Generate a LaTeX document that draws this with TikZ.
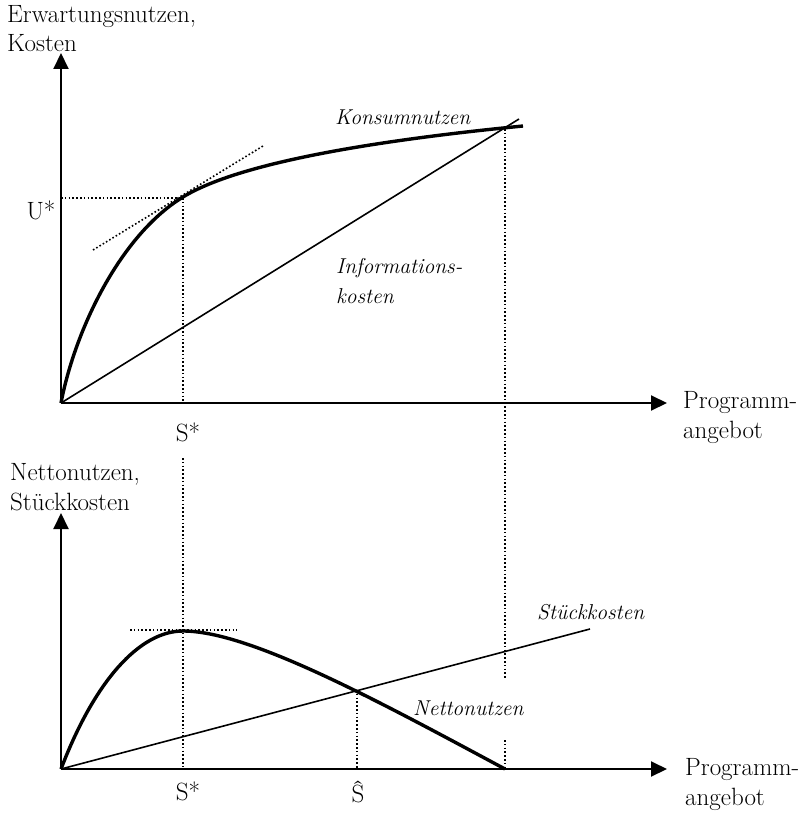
\documentclass[tikz,border=0pt]{standalone}
\usepackage{fontspec}
\usetikzlibrary{arrows.meta}
\begin{document}
\begin{tikzpicture}[x=1pt,y=-1pt,
  axis/.style={line width=2pt,-{Triangle[length=16pt,width=15pt]}},
  curve/.style={line width=3.4pt,line join=round},
  thin/.style={line width=1.6pt},
  dots/.style={line width=1.6pt,dash pattern=on 1.6pt off 2.2pt},
  lab/.style={font=\fontsize{25}{29.5}\selectfont,inner sep=0pt,anchor=base west,align=left},
  ilab/.style={font=\fontsize{21.5}{30}\selectfont\itshape,inner sep=0pt,anchor=base west,align=left},
  clab/.style={font=\fontsize{25}{29}\selectfont,inner sep=0pt,anchor=base},
]
\useasboundingbox (0,0) rectangle (804,813);
% coordinates
\coordinate (O1) at (61,403);
\coordinate (Y1) at (61,53);
\coordinate (X1) at (667,403);
\coordinate (O2) at (61,769);
\coordinate (Y2) at (61,513);
\coordinate (X2) at (667,769);
% top chart
\draw[thin] (O1) -- (519,119);
\draw[curve] (O1) .. controls (75,330) and (120,235.5) .. (183,197)
                  .. controls (240,162) and (380,140) .. (523,126);
\draw[dots] (61,198) -- (183,198);
\draw[dots] (183,198) -- (183,403);
\draw[dots] (93,250) -- (263,146);
\draw[dots] (505,129) -- (505,678);
\draw[axis] (O1) -- (Y1);
\draw[axis] (O1) -- (X1);
% bottom chart
\draw[thin] (O2) -- (590,629);
\draw[curve] (O2) .. controls (95,680) and (140,631) .. (183,631)
                  .. controls (250,631) and (380,702) .. (505,769);
\draw[dots] (183,458) -- (183,769);
\draw[dots] (130,630) -- (237,630);
\draw[dots] (357,690) -- (357,769);
\draw[dots] (505,740) -- (505,769);
\draw[axis] (O2) -- (Y2);
\draw[axis] (O2) -- (X2);
% labels
\node[lab] (ylab1) at (7,52) {Erwartungsnutzen,\\Kosten};
\node[lab] (xlab1) at (683,438) {Programm-\\angebot};
\node[lab] (ylab2) at (10,510) {Nettonutzen,\\Stückkosten};
\node[lab] (xlab2) at (685,805) {Programm-\\angebot};
\node[clab] (ustar) at (41,219) {U*};
\node[clab] (sstar1) at (188,441) {S*};
\node[clab] (sstar2) at (188,800) {S*};
\node[clab] (shat) at (358,802) {\^S};
\node[ilab] (konsum) at (335,125) {Konsumnutzen};
\node[ilab] (info) at (336,303) {Informations-\\kosten};
\node[ilab] (stueck) at (537,619) {Stückkosten};
\node[ilab] (netto) at (413,715) {Nettonutzen};
\end{tikzpicture}
\end{document}
